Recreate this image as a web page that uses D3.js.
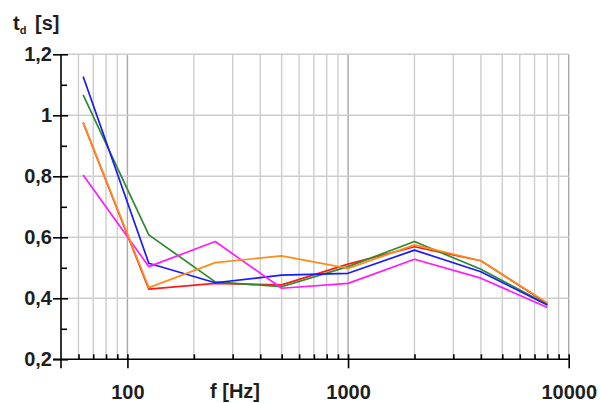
<!DOCTYPE html>
<html>
<head>
<meta charset="utf-8">
<script src="https://cdn.jsdelivr.net/npm/d3@7"></script>
<style>
  html, body { margin: 0; padding: 0; background: #fff; }
  svg { display: block; }
</style>
</head>
<body>
<svg id="chart"></svg>
<script>
// Data (octave band centre frequencies, decay time in s)
const freqs = [63, 125, 250, 500, 1000, 2000, 4000, 8000];
const blueVals    = [1.127, 0.515, 0.451, 0.476, 0.482, 0.558, 0.487, 0.378];
const greenVals   = [1.067, 0.608, 0.454, 0.438, 0.504, 0.586, 0.495, 0.380];
const redVals     = [0.976, 0.430, 0.449, 0.444, 0.512, 0.569, 0.523, 0.383];
const orangeVals  = [0.976, 0.435, 0.517, 0.539, 0.498, 0.575, 0.523, 0.385];
const magentaVals = [0.804, 0.504, 0.586, 0.433, 0.449, 0.528, 0.466, 0.370];

const yMajor = [0.2, 0.4, 0.6, 0.8, 1.0, 1.2];
const yLabels = ["0,2", "0,4", "0,6", "0,8", "1", "1,2"];
const yMinor = [0.3, 0.5, 0.7, 0.9, 1.1];
const xMajor = [100, 1000, 10000];
const xMinor = [60, 70, 80, 90, 200, 300, 400, 500, 600, 700, 800, 900,
                2000, 3000, 4000, 5000, 6000, 7000, 8000, 9000];

// Set dimensions
const width = 600;
const height = 403;
const plot = { left: 61, right: 568.7, top: 54.3, bottom: 359.3 };

const svg = d3.select("#chart")
    .attr("width", width)
    .attr("height", height);

const font = "'Liberation Sans', Arial, sans-serif";

// Scales
const x = d3.scaleLog().domain([50, 10000]).range([plot.left, plot.right]);
const y = d3.scaleLinear().domain([0.2, 1.2]).range([plot.bottom, plot.top]);

// Grid
const grid = svg.append("g").attr("class", "grid");
grid.selectAll("line.v")
    .data(xMinor.concat(xMajor))
    .join("line")
    .attr("x1", d => x(d)).attr("x2", d => x(d))
    .attr("y1", plot.top).attr("y2", plot.bottom)
    .attr("stroke", d => xMajor.includes(d) ? "#a8a8a8" : "#cdcdcd")
    .attr("stroke-width", 1.4);
grid.selectAll("line.h")
    .data(yMajor.slice(1))
    .join("line")
    .attr("x1", plot.left).attr("x2", plot.right)
    .attr("y1", d => y(d)).attr("y2", d => y(d))
    .attr("stroke", "#cdcdcd")
    .attr("stroke-width", 1.4);

// Lines
const series = [
    { vals: redVals, color: "#ff1a1a" },
    { vals: greenVals, color: "#2f8a2f" },
    { vals: blueVals, color: "#1a1aff" },
    { vals: magentaVals, color: "#ff1aff" },
    { vals: orangeVals, color: "#ff8c1a" }
];
const line = d3.line().x((d, i) => x(freqs[i])).y(d => y(d));
svg.append("g")
    .selectAll("path")
    .data(series)
    .join("path")
    .attr("d", d => line(d.vals))
    .attr("fill", "none")
    .attr("stroke", d => d.color)
    .attr("stroke-width", 1.7)
    .attr("stroke-linejoin", "round");

// Y axis (major ticks cross the axis, minor ticks point inwards)
const yAxis = svg.append("g")
    .attr("transform", `translate(${plot.left},0)`)
    .call(d3.axisLeft(y).tickValues(yMajor).tickSize(8)
        .tickFormat((d, i) => yLabels[i]));
yAxis.select(".domain").remove();
yAxis.selectAll(".tick line").attr("x1", 7).attr("stroke", "#000").attr("stroke-width", 1.6);
yAxis.selectAll(".tick text")
    .attr("x", -9)
    .attr("fill", "#1e1e1e")
    .style("font", `bold 20px ${font}`);

svg.append("g")
    .attr("transform", `translate(${plot.left},0)`)
    .call(d3.axisRight(y).tickValues(yMinor).tickSize(6).tickFormat(""))
    .call(g => g.select(".domain").remove())
    .selectAll("line").attr("stroke", "#000").attr("stroke-width", 1.6);

// X axis
const xAxis = svg.append("g")
    .attr("transform", `translate(0,${plot.bottom})`)
    .call(d3.axisBottom(x).tickValues(xMajor).tickSize(9).tickFormat(d3.format("d")));
xAxis.select(".domain").remove();
xAxis.selectAll(".tick line").attr("y1", -5).attr("stroke", "#000").attr("stroke-width", 1.6);
xAxis.selectAll(".tick text")
    .attr("y", 0).attr("dy", 0)
    .attr("transform", "translate(0,39.5)")
    .attr("fill", "#1e1e1e")
    .style("font", `bold 20px ${font}`);

svg.append("g")
    .attr("transform", `translate(0,${plot.bottom})`)
    .call(d3.axisTop(x).tickValues(xMinor).tickSize(5).tickFormat(""))
    .call(g => g.select(".domain").remove())
    .selectAll("line").attr("stroke", "#000").attr("stroke-width", 1.6);

// Axis lines
svg.append("line")
    .attr("x1", plot.left).attr("x2", plot.left)
    .attr("y1", plot.top).attr("y2", plot.bottom + 9)
    .attr("stroke", "#000").attr("stroke-width", 1.6);
svg.append("line")
    .attr("x1", plot.left - 8).attr("x2", plot.right)
    .attr("y1", plot.bottom).attr("y2", plot.bottom)
    .attr("stroke", "#000").attr("stroke-width", 1.6);

// Axis titles
const yTitle = svg.append("text")
    .attr("x", 13).attr("y", 29.5)
    .attr("fill", "#1e1e1e")
    .style("font", `bold 20px ${font}`);
yTitle.append("tspan").text("t");
yTitle.append("tspan").attr("dy", 4).style("font-size", "11px").text("d");
yTitle.append("tspan").attr("x", 35).attr("dy", -4).text("[s]");

svg.append("text")
    .attr("x", 210).attr("y", 398)
    .attr("fill", "#1e1e1e")
    .style("font", `bold 20px ${font}`)
    .text("f [Hz]");
</script>
</body>
</html>
